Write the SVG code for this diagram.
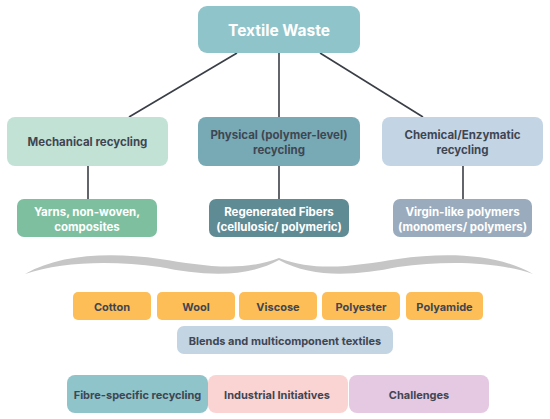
<svg xmlns="http://www.w3.org/2000/svg" width="550" height="419" viewBox="0 0 550 419">
<style>
text{font-family:Inter,"Liberation Sans",sans-serif;font-weight:700;text-anchor:middle;dominant-baseline:central;}
.d{fill:#3f4652;font-size:11.5px;}
.w{fill:#ffffff;font-size:11.5px;}
.f{fill:#3f4652;font-size:11px;}
.conn line{stroke:#3a3f47;stroke-width:1.6;}
</style>
<rect width="550" height="419" fill="#ffffff"/>
<g id="connectors" class="conn">
<line x1="237" y1="53" x2="129" y2="117"/>
<line x1="279" y1="53" x2="279" y2="117"/>
<line x1="320" y1="53" x2="423" y2="117"/>
<line x1="88" y1="166" x2="88" y2="199"/>
<line x1="279" y1="166" x2="279" y2="199"/>
<line x1="463" y1="166" x2="463" y2="199"/>
</g>
<g id="textile-waste">
<rect x="198" y="6" width="162" height="47" rx="9" fill="#8fc4cb"/>
<text x="279" y="30" fill="#ffffff" style="font-size:15.5px">Textile Waste</text>
</g>
<g id="mechanical">
<rect x="7" y="117" width="161" height="49" rx="8" fill="#c3e2d6"/>
<text class="d" x="87.5" y="142">Mechanical recycling</text>
</g>
<g id="physical">
<rect x="198" y="117" width="162" height="49" rx="8" fill="#78aab6"/>
<text class="d" x="279" y="135">Physical (polymer-level)</text>
<text class="d" x="279" y="149.5">recycling</text>
</g>
<g id="chemical">
<rect x="382" y="117" width="161" height="49" rx="8" fill="#c3d5e5"/>
<text class="d" x="462.5" y="135">Chemical/Enzymatic</text>
<text class="d" x="462.5" y="149.5">recycling</text>
</g>
<g id="yarns">
<rect x="17" y="199" width="140" height="38" rx="7" fill="#7dbf9f"/>
<text class="w" x="87" y="212">Yarns, non-woven,</text>
<text class="w" x="87" y="226.5">composites</text>
</g>
<g id="regenerated">
<rect x="209" y="199" width="140" height="38" rx="7" fill="#5f8b95"/>
<text class="w" x="279" y="212">Regenerated  Fibers</text>
<text class="w" x="279" y="226.5">(cellulosic/ polymeric)</text>
</g>
<g id="virgin">
<rect x="393" y="199" width="139" height="38" rx="7" fill="#9aabbd"/>
<text class="w" x="462.5" y="212">Virgin-like polymers</text>
<text class="w" x="462.5" y="226.5">(monomers/ polymers)</text>
</g>
<path id="brace" fill="#c6c6c6" d="M25,274 C60,254 110,252 160,259 C200,265 240,273 279,258 C318,273 358,265 398,259 C448,252 498,254 533,274 C498,262 448,260 398,267 C358,275 313,279 279,260 C245,279 200,275 160,267 C110,260 60,262 25,274 Z"/>
<g id="cotton">
<rect x="73" y="292" width="78" height="28" rx="5" fill="#fdbe57"/>
<text class="f" x="112" y="307">Cotton</text>
</g>
<g id="wool">
<rect x="157" y="292" width="78" height="28" rx="5" fill="#fdbe57"/>
<text class="f" x="196" y="307">Wool</text>
</g>
<g id="viscose">
<rect x="239" y="292" width="78" height="28" rx="5" fill="#fdbe57"/>
<text class="f" x="278" y="307">Viscose</text>
</g>
<g id="polyester">
<rect x="322" y="292" width="78" height="28" rx="5" fill="#fdbe57"/>
<text class="f" x="361" y="307">Polyester</text>
</g>
<g id="polyamide">
<rect x="406" y="292" width="77" height="28" rx="5" fill="#fdbe57"/>
<text class="f" x="444.5" y="307">Polyamide</text>
</g>
<g id="blends">
<rect x="177" y="326" width="216" height="28" rx="7" fill="#c3d4e3"/>
<text class="f" x="285" y="340.5">Blends and multicomponent textiles</text>
</g>
<g id="fibre-specific">
<rect x="67" y="375" width="141" height="38" rx="8" fill="#8fc4cb"/>
<text class="f" x="137.5" y="395">Fibre-specific recycling</text>
</g>
<g id="industrial">
<rect x="208" y="375" width="140" height="38" rx="8" fill="#fad4d3"/>
<text class="f" x="277" y="395">Industrial Initiatives</text>
</g>
<g id="challenges">
<rect x="349" y="375" width="140" height="38" rx="8" fill="#e5c8e1"/>
<text class="f" x="419" y="395">Challenges</text>
</g>
</svg>
